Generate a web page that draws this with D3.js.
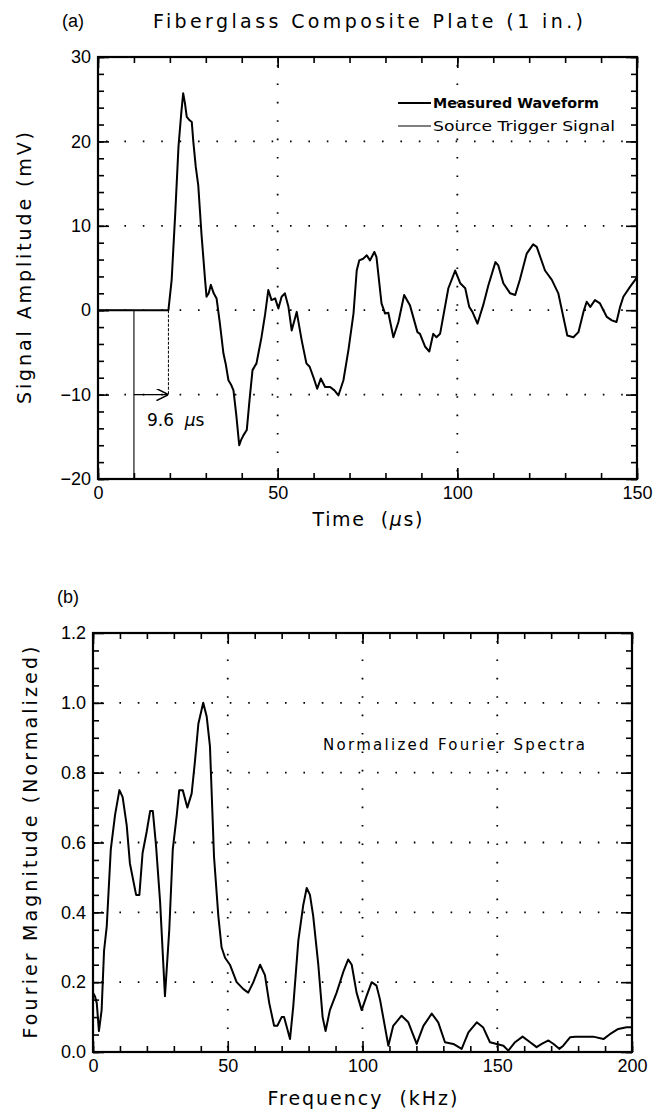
<!DOCTYPE html>
<html>
<head>
<meta charset="utf-8">
<script src="https://cdn.jsdelivr.net/npm/d3@7"></script>
<style>
  body { margin: 0; background: #fff; }
  text { font-family: "Liberation Sans", Arial, sans-serif; fill: #000; }
  .lbl { font-family: "DejaVu Sans", "Liberation Sans", sans-serif; }
</style>
</head>
<body>
<div id="main"></div>
<script>
// ---- data ----
var timeTicks = [0, 50, 100, 150];
var ampTicks = [-20, -10, 0, 10, 20, 30];
var freqTicks = [0, 50, 100, 150, 200];
var magTicks = [0, 0.2, 0.4, 0.6, 0.8, 1.0, 1.2];

// measured waveform, [time us, amplitude mV]
var waveform = [
  [0,0],[19.6,0],[20.5,3.6],[21.5,11.5],[22.4,19.4],[23.2,23.5],[23.7,25.7],[24.2,24.5],
  [24.7,22.9],[25.5,22.5],[26.1,22.3],[26.5,20.1],[27.2,17],[27.9,14.8],[28.8,9],[29.8,3.6],
  [30.2,1.6],[30.8,2.0],[31.4,3.0],[32.2,2.0],[33.0,1.4],[33.9,-1.5],[34.9,-5.1],[35.6,-6.5],
  [36.3,-8.3],[37.0,-8.8],[37.7,-9.5],[38.5,-12.5],[39.3,-16.0],[39.8,-15.4],[40.5,-14.8],
  [41.4,-14.2],[42.2,-10.5],[43.0,-7.1],[44.1,-6.3],[45.5,-3.2],[46.5,-0.5],[47.4,2.4],
  [48.3,1.2],[49.3,1.4],[50.2,0.2],[51.1,1.6],[52.0,2.0],[53.0,0.4],[53.9,-2.4],[55.3,-0.2],
  [56.7,-3.6],[58.0,-6.3],[58.9,-6.7],[60.0,-8.0],[61.0,-9.3],[62.0,-8.1],[63.2,-9.1],
  [64.6,-9.1],[65.8,-9.5],[66.9,-10.1],[68.3,-8.3],[69.7,-4.7],[71.1,-0.4],[72.0,4.7],
  [72.7,5.9],[73.8,6.1],[74.8,6.5],[75.7,5.9],[76.9,6.9],[77.5,6.3],[78.9,0.8],[79.9,-0.4],
  [80.8,-0.3],[82.2,-3.2],[83.6,-1.4],[85.2,1.8],[86.8,0.6],[88.9,-2.6],[89.6,-2.8],
  [91.0,-4.3],[92.2,-4.9],[93.3,-2.8],[94.2,-3.2],[95.2,-2.8],[97.5,2.6],[99.4,4.7],
  [100.8,3.2],[102.2,2.6],[103.3,0.4],[104.2,-0.2],[105.6,-1.6],[107.2,0.6],[108.6,2.9],
  [110.6,5.7],[111.4,5.3],[112.8,3.2],[114.7,2.0],[116.1,1.8],[117.4,3.6],[119.3,6.7],
  [121.1,7.8],[122.1,7.5],[124.4,4.7],[126.3,3.6],[128.1,2.0],[129.5,-0.8],[130.6,-3.0],
  [132.3,-3.2],[133.7,-2.6],[135.1,-0.2],[136.0,1.0],[137.0,0.4],[138.3,1.2],[139.7,0.8],
  [141.6,-0.8],[143.0,-1.2],[144.3,-1.4],[145.3,0.4],[146.2,1.6],[148.1,2.8],[150,3.9]
];

// source trigger signal, [time us, amplitude mV]
var trigger = [[0,0],[10,0],[10,-20],[150,-20]];
var triggerTime = 10, arrivalTime = 19.6;

// normalized Fourier spectrum, [frequency kHz, magnitude]
var spectrum = [
  [0,0.17],[0.7,0.16],[1.4,0.14],[2.2,0.06],[3.2,0.12],[4.1,0.29],[5.1,0.36],[6.6,0.58],
  [8.2,0.68],[9.8,0.75],[11.0,0.73],[12.5,0.65],[13.7,0.54],[16.0,0.45],[17.2,0.45],
  [18.4,0.57],[19.9,0.63],[21.2,0.69],[22.2,0.69],[23.4,0.59],[24.9,0.43],[26.7,0.16],
  [28.3,0.35],[29.6,0.58],[31.1,0.68],[32.0,0.75],[33.3,0.75],[35.0,0.70],[36.6,0.74],
  [37.8,0.83],[39.1,0.94],[40.9,1.0],[42.2,0.96],[43.4,0.875],[44.9,0.56],[46.5,0.39],
  [47.7,0.30],[49.0,0.27],[50.8,0.25],[53.3,0.20],[55.8,0.18],[57.6,0.17],[59.5,0.20],
  [62.0,0.25],[63.8,0.22],[65.4,0.14],[67.2,0.075],[68.4,0.075],[70.0,0.10],[70.9,0.10],
  [73.1,0.037],[74.3,0.13],[76.2,0.32],[78.0,0.42],[79.3,0.47],[80.5,0.45],[81.7,0.39],
  [83.6,0.25],[85.2,0.10],[86.3,0.06],[87.9,0.12],[90.4,0.17],[92.9,0.23],[94.7,0.265],
  [96.0,0.25],[97.8,0.17],[99.7,0.12],[101.5,0.16],[103.4,0.20],[105.2,0.19],[106.5,0.15],
  [109.6,0.018],[111.4,0.075],[114.5,0.104],[117.0,0.085],[120.1,0.023],[122.6,0.075],
  [125.7,0.11],[128.1,0.085],[130.6,0.028],[133.7,0.023],[136.8,0.009],[139.3,0.056],
  [142.4,0.085],[144.8,0.07],[147.3,0.028],[149.8,0.023],[152.3,0.018],[154.1,0.004],
  [156.6,0.028],[159.4,0.044],[162.2,0.028],[164.6,0.014],[166.5,0.023],[169.0,0.033],
  [170.9,0.023],[173.0,0.009],[174.5,0.018],[177.0,0.042],[178.9,0.044],[185.6,0.044],
  [189.4,0.037],[191.8,0.051],[194.9,0.066],[198.0,0.071],[200,0.071]
];

var W = 656, H = 1112;
var svg = d3.select('#main').append('svg').attr('width', W).attr('height', H);

svg.append('defs').append('marker')
  .attr('id', 'arrow').attr('viewBox', '0 0 10 10').attr('refX', 10).attr('refY', 5)
  .attr('markerWidth', 12).attr('markerHeight', 12).attr('markerUnits', 'userSpaceOnUse')
  .attr('orient', 'auto')
  .append('path').attr('d', 'M0,0 L10,5 L0,10').attr('fill', 'none')
  .attr('stroke', '#000').attr('stroke-width', 1.3);

// draws frame, inward ticks on all sides, dotted grid, labels
function panel(o) {
  var g = svg.append('g');
  var x = o.x, y = o.y;
  var x0 = x.range()[0], x1 = x.range()[1], y0 = y.range()[1], y1 = y.range()[0];

  // dotted grid at inner major ticks
  g.selectAll('.gx').data(o.xMajor.slice(1, -1)).enter().append('line')
    .attr('x1', x).attr('x2', x).attr('y1', y0 + 8).attr('y2', y1)
    .attr('stroke', '#000').attr('stroke-width', 1.8).attr('stroke-dasharray', '1.6,16.8');
  g.selectAll('.gy').data(o.yMajor.slice(1, -1)).enter().append('line')
    .attr('y1', y).attr('y2', y).attr('x1', x0 + 8).attr('x2', x1)
    .attr('stroke', '#000').attr('stroke-width', 1.8).attr('stroke-dasharray', '1.6,16.8');

  function ticks(axisFn, scale, vals, len, tf) {
    var a = axisFn(scale).tickValues(vals).tickSizeInner(-len).tickSizeOuter(0).tickPadding(7);
    if (!tf) a.tickFormat('');
    else a.tickFormat(tf);
    return a;
  }
  var sides = [
    [d3.axisBottom, x, 'translate(0,' + y1 + ')', o.xMinor, o.xMajor, o.xFmt],
    [d3.axisTop, x, 'translate(0,' + y0 + ')', o.xMinor, o.xMajor, null],
    [d3.axisLeft, y, 'translate(' + x0 + ',0)', o.yMinor, o.yMajor, o.yFmt],
    [d3.axisRight, y, 'translate(' + x1 + ',0)', o.yMinor, o.yMajor, null]
  ];
  sides.forEach(function (s) {
    var gm = g.append('g').attr('transform', s[2]).call(ticks(s[0], s[1], s[3], 6, null));
    var gM = g.append('g').attr('transform', s[2]).call(ticks(s[0], s[1], s[4], 11, s[5]));
    [gm, gM].forEach(function (a) {
      a.select('.domain').remove();
      a.selectAll('line').attr('stroke-width', 1.6);
      a.selectAll('text').style('font-size', '18px').attr('fill', '#000');
    });
  });

  g.append('rect').attr('x', x0).attr('y', y0).attr('width', x1 - x0).attr('height', y1 - y0)
    .attr('fill', 'none').attr('stroke', '#000').attr('stroke-width', 2.2);

  var cid = 'clip' + o.id;
  svg.select('defs').append('clipPath').attr('id', cid).append('rect')
    .attr('x', x0).attr('y', y0).attr('width', x1 - x0).attr('height', y1 - y0);
  g.clip = 'url(#' + cid + ')';

  g.append('text').attr('class', 'lbl').attr('x', (x0 + x1) / 2).attr('y', o.xTitleY)
    .attr('text-anchor', 'middle')
    .attr('textLength', o.xTitleLen).attr('lengthAdjust', 'spacing')
    .style('font-size', '19px').html(o.xTitle);
  g.append('text').attr('class', 'lbl')
    .attr('transform', 'translate(' + o.yTitleX + ',' + (y0 + y1) / 2 + ') rotate(-90)')
    .attr('text-anchor', 'middle').attr('textLength', o.yTitleLen).attr('lengthAdjust', 'spacing')
    .style('font-size', '19px').text(o.yTitle);
  g.append('text').attr('x', o.tagX).attr('y', o.tagY).attr('text-anchor', 'middle')
    .style('font-size', '18px').text(o.tag);
  return g;
}

// ---- panel (a) ----
var xT = d3.scaleLinear().domain([0, 150]).range([98, 637]);
var yA = d3.scaleLinear().domain([-20, 30]).range([479, 57]);
var ga = panel({
  id: 'a', x: xT, y: yA,
  xMajor: timeTicks, xMinor: d3.range(0, 151, 10),
  yMajor: ampTicks, yMinor: d3.range(-20, 31, 2),
  xFmt: d3.format('d'), yFmt: d3.format('d'),
  xTitle: 'Time&#160;&#160;(<tspan font-style="italic">μ</tspan>s)', xTitleY: 526, xTitleLen: 110,
  yTitle: 'Signal Amplitude  (mV)', yTitleX: 31, yTitleLen: 272,
  tag: '(a)', tagX: 73, tagY: 27
});

svg.append('text').attr('class', 'lbl').attr('x', 368).attr('y', 28).attr('text-anchor', 'middle')
  .attr('textLength', 430).attr('lengthAdjust', 'spacing')
  .style('font-size', '19px').text('Fiberglass Composite Plate (1 in.)');

var lineA = d3.line().x(function (d) { return xT(d[0]); }).y(function (d) { return yA(d[1]); });
ga.append('path').datum(trigger).attr('d', lineA).attr('clip-path', ga.clip)
  .attr('fill', 'none').attr('stroke', '#000').attr('stroke-width', 1.1);
ga.append('path').datum(waveform).attr('d', lineA).attr('clip-path', ga.clip)
  .attr('fill', 'none').attr('stroke', '#000').attr('stroke-width', 2).attr('stroke-linejoin', 'round');

// delay annotation
ga.append('line').attr('x1', xT(arrivalTime)).attr('x2', xT(arrivalTime))
  .attr('y1', yA(0)).attr('y2', yA(-10))
  .attr('stroke', '#000').attr('stroke-width', 1).attr('stroke-dasharray', '3,1.5');
ga.append('line').attr('x1', xT(triggerTime)).attr('x2', xT(arrivalTime))
  .attr('y1', yA(-10)).attr('y2', yA(-10))
  .attr('stroke', '#000').attr('stroke-width', 1.3).attr('marker-end', 'url(#arrow)');
ga.append('text').attr('class', 'lbl').attr('x', xT(triggerTime) + 13).attr('y', yA(-13.7))
  .style('font-size', '17px')
  .html('9.6&#160;&#160;<tspan font-style="italic">μ</tspan>s');

// legend
var legend = [
  { label: 'Measured Waveform', w: 2.2, len: 166, weight: 'bold' },
  { label: 'Source Trigger Signal', w: 1.1, len: 182, weight: 'normal' }
];
legend.forEach(function (d, i) {
  var yy = 103 + i * 23;
  ga.append('line').attr('x1', 398).attr('x2', 431).attr('y1', yy).attr('y2', yy)
    .attr('stroke', '#000').attr('stroke-width', d.w);
  ga.append('text').attr('class', 'lbl').attr('x', 433).attr('y', yy + 5).style('font-size', '14px')
    .style('font-weight', d.weight).attr('textLength', d.len).attr('lengthAdjust', 'spacingAndGlyphs')
    .text(d.label);
});

// ---- panel (b) ----
var xF = d3.scaleLinear().domain([0, 200]).range([93, 632]);
var yM = d3.scaleLinear().domain([0, 1.2]).range([1052, 633]);
var gb = panel({
  id: 'b', x: xF, y: yM,
  xMajor: freqTicks, xMinor: d3.range(0, 201, 10),
  yMajor: magTicks, yMinor: d3.range(0, 24).map(function (i) { return i * 0.05; }),
  xFmt: d3.format('d'), yFmt: d3.format('.1f'),
  xTitle: 'Frequency&#160;&#160;(kHz)', xTitleY: 1105, xTitleLen: 190,
  yTitle: 'Fourier Magnitude  (Normalized)', yTitleX: 37, yTitleLen: 392,
  tag: '(b)', tagX: 68, tagY: 603
});

var lineB = d3.line().x(function (d) { return xF(d[0]); }).y(function (d) { return yM(d[1]); });
gb.append('path').datum(spectrum).attr('d', lineB).attr('clip-path', gb.clip)
  .attr('fill', 'none').attr('stroke', '#000').attr('stroke-width', 2).attr('stroke-linejoin', 'round');

gb.append('text').attr('class', 'lbl').attr('x', 323).attr('y', 750).style('font-size', '15px')
  .attr('textLength', 262).attr('lengthAdjust', 'spacing')
  .text('Normalized Fourier Spectra');
</script>
</body>
</html>
